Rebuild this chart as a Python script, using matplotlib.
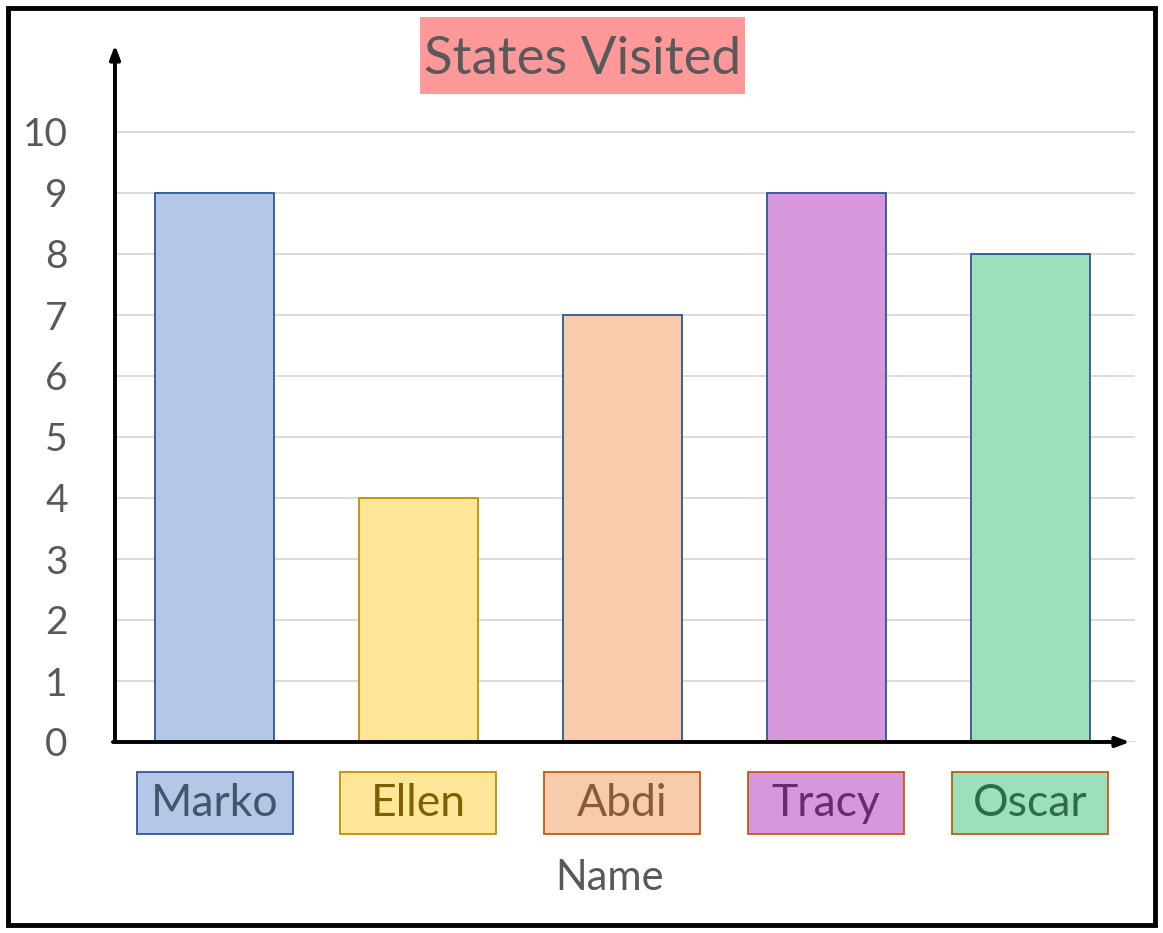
import matplotlib
matplotlib.use("Agg")
import matplotlib.pyplot as plt
from matplotlib.patches import Rectangle
import matplotlib.transforms as mtransforms

names = ["Marko", "Ellen", "Abdi", "Tracy", "Oscar"]
values = [9, 4, 7, 9, 8]
yticks = [0, 1, 2, 3, 4, 5, 6, 7, 8, 9, 10]
title = "States Visited"
xlabel = "Name"

bar_colors = ["#B4C7E7", "#FFE699", "#F8CBAD", "#D797DC", "#9BE0BB"]
bar_edges = ["#2F5597", "#BF9000", "#2F5597", "#2F5597", "#2F5597"]
box_edges = ["#2F5597", "#BF9000", "#C55A11", "#C55A11", "#C55A11"]
text_colors = ["#44546A", "#7F6000", "#8A5A3C", "#6B2A70", "#2E6B4A"]

plt.rcParams["font.family"] = ["Lato", "DejaVu Sans"]
W, H = 1163, 933
fig = plt.figure(figsize=(W / 100, H / 100), dpi=100)

L, R, B, T = 115, 1135, 742, 45
ax = fig.add_axes([L / W, (H - B) / H, (R - L) / W, (B - T) / H])
px_per_unit = 61.0
ax.set_ylim(0, (B - T) / px_per_unit)
spacing = 203.85
c0 = 214.6
ax.set_xlim((L - c0) / spacing, (R - c0) / spacing)

x = list(range(len(names)))
ax.bar(x, values, width=119 / spacing, color=bar_colors, edgecolor=bar_edges, linewidth=1.3, zorder=3)

for s in ax.spines.values():
    s.set_visible(False)
ax.set_yticks(yticks)
ax.set_yticklabels([str(t) for t in yticks], fontsize=28, color="#595959")
ax.tick_params(axis="y", length=0, pad=34)
ax.set_xticks([])
for t in yticks:
    ax.axhline(t, color="#D9D9D9", linewidth=1.3, zorder=1)

# axis arrows
ax.annotate("", xy=(0, 1), xytext=(0, 0), xycoords="axes fraction",
            arrowprops=dict(arrowstyle="-|>,head_length=0.8,head_width=0.3", color="black", lw=2.8, shrinkA=0, shrinkB=0),
            annotation_clip=False, zorder=5)
ax.annotate("", xy=((1130 - L) / (R - L), 0), xytext=(-0.002, 0), xycoords="axes fraction",
            arrowprops=dict(arrowstyle="-|>,head_length=0.8,head_width=0.3", color="black", lw=2.8, shrinkA=0, shrinkB=0),
            annotation_clip=False, zorder=5)

# category label boxes
trans = mtransforms.blended_transform_factory(ax.transData, fig.transFigure)
bw = 156 / spacing
by0 = (H - 834) / H
bh = 62 / H
for i, n in enumerate(names):
    rect = Rectangle((i - bw / 2, by0), bw, bh, transform=trans, facecolor=bar_colors[i],
                     edgecolor=box_edges[i], linewidth=1.3, clip_on=False)
    fig.add_artist(rect)
    fig.text(i, by0 + bh / 2, n, transform=trans, fontsize=32, color=text_colors[i], ha="center", va="center")

fig.text(610 / W, (H - 878) / H, xlabel, fontsize=30, color="#595959", ha="center", va="center")

# title
fig.add_artist(Rectangle((420 / W, (H - 94) / H), 325 / W, 77 / H, transform=fig.transFigure,
                         facecolor="#FF9999", edgecolor="none"))
fig.text(582.5 / W, (H - 59) / H, title, fontsize=38, color="#595959", ha="center", va="center")

# outer border
fig.add_artist(Rectangle((8 / W, 8 / H), (1155 - 8) / W, (925 - 8) / H, transform=fig.transFigure,
                         facecolor="none", edgecolor="black", linewidth=3.5))

fig.savefig("out.png", dpi=100)
